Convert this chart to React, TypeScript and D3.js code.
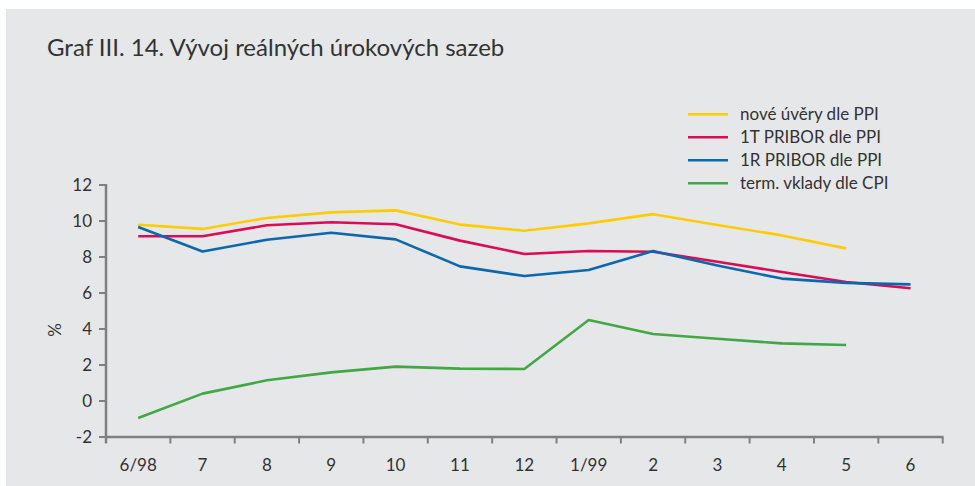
import React from "react";
import * as d3 from "d3";

const categories = ["6/98", "7", "8", "9", "10", "11", "12", "1/99", "2", "3", "4", "5", "6"];
const noveUvery = [9.79, 9.56, 10.17, 10.48, 10.59, 9.8, 9.46, 9.87, 10.38, 9.78, 9.2, 8.48, null];
const pribor1T = [9.15, 9.15, 9.76, 9.93, 9.82, 8.91, 8.17, 8.33, 8.29, 7.74, 7.17, 6.61, 6.26];
const pribor1R = [9.67, 8.31, 8.96, 9.35, 8.98, 7.48, 6.94, 7.28, 8.33, 7.53, 6.8, 6.56, 6.48];
const termVklady = [-0.94, 0.41, 1.15, 1.59, 1.91, 1.8, 1.78, 4.5, 3.72, 3.46, 3.2, 3.11, null];
const yTicks = [-2, 0, 2, 4, 6, 8, 10, 12];
const seriesNames = ["nové úvěry dle PPI", "1T PRIBOR dle PPI", "1R PRIBOR dle PPI", "term. vklady dle CPI"];
const seriesColors = ["#ffcc00", "#dc0b52", "#0b68ad", "#40a844"];
const title = "Graf III. 14. Vývoj reálných úrokových sazeb";

const W = 975;
const H = 486;
const FONT = "Lato, 'Open Sans', sans-serif";

export default function App() {
  const series = [noveUvery, pribor1T, pribor1R, termVklady];
  const x = d3.scaleBand<string>().domain(categories).range([106, 942.7]).paddingInner(0).paddingOuter(0);
  const y = d3.scaleLinear().domain([-2, 12]).range([437, 185]);
  const line = d3
    .line<number | null>()
    .defined((d) => d !== null)
    .x((_, i) => (x(categories[i]) as number) + x.bandwidth() / 2)
    .y((d) => y(d as number));
  const axisColor = "#7f8083";
  const textColor = "#333333";
  const tickPositions = d3.range(categories.length + 1).map((i) => 106 + i * x.bandwidth());

  return (
    <svg width={W} height={H} style={{ position: "absolute", left: 0, top: 0, display: "block" }}>
      <rect x={0} y={0} width={W} height={H} fill="#ffffff" />
      <rect x={6} y={9} width={W - 6} height={H - 9} fill="#e6e7e9" />
      <text x={47} y={56} fontFamily={FONT} fontSize={24} fill={textColor}>
        {title}
      </text>
      {/* y axis */}
      <line x1={106} x2={106} y1={y(12) - 1} y2={y(-2) + 6} stroke={axisColor} strokeWidth={2.5} />
      {yTicks.map((t) => (
        <g key={t}>
          <line x1={99} x2={106} y1={y(t)} y2={y(t)} stroke={axisColor} strokeWidth={2} />
          <text x={92} y={y(t)} dy="0.35em" textAnchor="end" fontFamily={FONT} fontSize={17} fill={textColor}>
            {t}
          </text>
        </g>
      ))}
      <text
        transform={`translate(61,${y(4) + 1}) rotate(-90)`}
        textAnchor="middle"
        fontFamily={FONT}
        fontSize={17}
        fill={textColor}
      >
        %
      </text>
      {/* x axis */}
      <line x1={106} x2={943.5} y1={437} y2={437} stroke={axisColor} strokeWidth={2.5} />
      {tickPositions.map((p, i) => (
        <line key={i} x1={p} x2={p} y1={437} y2={443.5} stroke={axisColor} strokeWidth={2} />
      ))}
      {categories.map((c) => (
        <text
          key={c}
          x={(x(c) as number) + x.bandwidth() / 2}
          y={471}
          textAnchor="middle"
          fontFamily={FONT}
          fontSize={17}
          fill={textColor}
        >
          {c}
        </text>
      ))}
      {/* lines */}
      {series.map((s, i) => (
        <path key={i} d={line(s) || ""} fill="none" stroke={seriesColors[i]} strokeWidth={2.6} strokeLinejoin="round" />
      ))}
      {/* legend */}
      {seriesNames.map((n, i) => {
        const ly = 114.3 + i * 23;
        return (
          <g key={n}>
            <line x1={688} x2={728} y1={ly} y2={ly} stroke={seriesColors[i]} strokeWidth={2.6} />
            <text x={740} y={ly} dy="0.35em" fontFamily={FONT} fontSize={17} fill={textColor}>
              {n}
            </text>
          </g>
        );
      })}
    </svg>
  );
}
